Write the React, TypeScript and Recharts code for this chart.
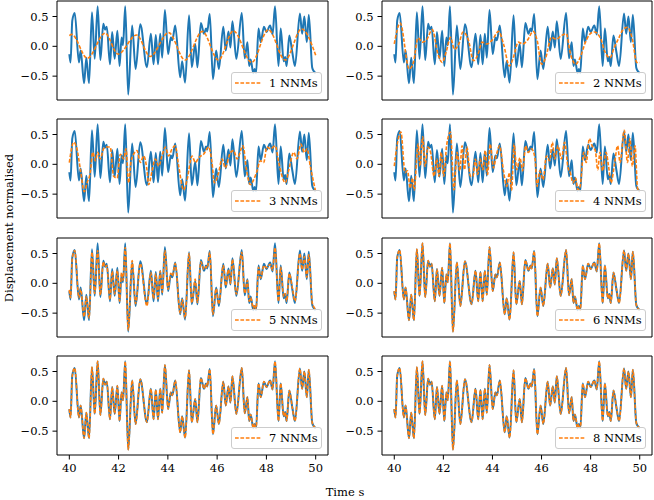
import { LineChart, Line, XAxis, YAxis, ReferenceArea } from "recharts";

const FONT = "'DejaVu Serif', serif";
const BLUE = "#1f77b4";
const ORANGE = "#ff7f0e";

const X_DOMAIN: [number, number] = [39.5, 50.5];
const Y_DOMAIN: [number, number] = [-0.9, 0.76];
const X_TICKS = [40, 42, 44, 46, 48, 50];
const Y_TICKS = [-0.5, 0, 0.5];

const LABELS = ["1 NNMs", "2 NNMs", "3 NNMs", "4 NNMs", "5 NNMs", "6 NNMs", "7 NNMs", "8 NNMs"];

const MEASURED = [
  [40.0, -0.13], [40.05, -0.27], [40.12, 0.43], [40.22, 0.56], [40.39, -0.27], [40.46, -0.07],
  [40.6, -0.62], [40.69, -0.19], [40.8, -0.62], [40.92, 0.57], [41.03, -0.21], [41.15, 0.67],
  [41.26, -0.23], [41.38, 0.38], [41.45, 0.28], [41.52, 0.33], [41.65, -0.3], [41.74, 0.24],
  [41.84, -0.21], [41.95, 0.26], [42.04, -0.33], [42.12, 0.15], [42.18, 0.02], [42.27, 0.67],
  [42.39, -0.81], [42.55, 0.35], [42.69, -0.38], [42.88, 0.37], [43.15, -0.35], [43.31, 0.21],
  [43.42, -0.3], [43.51, 0.19], [43.6, -0.3], [43.69, 0.21], [43.77, -0.19], [43.88, 0.61],
  [44.01, -0.13], [44.12, 0.15], [44.18, 0.1], [44.3, 0.35], [44.5, -0.52], [44.58, -0.25],
  [44.7, -0.61], [44.86, 0.52], [44.97, -0.35], [45.11, 0.04], [45.2, -0.35], [45.34, 0.39],
  [45.47, 0.21], [45.55, 0.3], [45.6, 0.25], [45.7, 0.54], [45.83, -0.55], [45.96, -0.07],
  [46.07, -0.38], [46.25, 0.33], [46.35, -0.07], [46.46, 0.25], [46.54, -0.02], [46.62, 0.42],
  [46.78, -0.21], [47.0, 0.56], [47.12, -0.2], [47.23, 0.07], [47.3, -0.33], [47.36, -0.22],
  [47.47, -0.45], [47.52, -0.38], [47.58, -0.45], [47.68, 0.3], [47.77, 0.07], [47.9, 0.33],
  [48.0, 0.24], [48.15, 0.35], [48.25, 0.2], [48.35, 0.67], [48.49, -0.33], [48.58, 0.3],
  [48.7, -0.25], [48.76, -0.18], [48.82, -0.33], [48.93, 0.18], [49.05, -0.1], [49.16, -0.33],
  [49.36, 0.55], [49.45, 0.21], [49.54, 0.5], [49.64, 0.07], [49.72, 0.53], [49.86, -0.36],
  [49.93, -0.42], [50.0, -0.45],
];

const NNM_1 = [
  [40.0, 0.18], [40.1, 0.2], [40.73, -0.2], [41.45, 0.22], [41.98, -0.13], [42.73, 0.19],
  [43.28, -0.17], [44.03, 0.23], [44.7, -0.23], [45.4, 0.25], [46.05, -0.23], [46.66, 0.26],
  [47.4, -0.27], [48.08, 0.28], [48.76, -0.23], [49.43, 0.29], [50.0, -0.15],
];

const NNM_2 = [
  [40.0, 0.04], [40.24, 0.39], [40.61, -0.38], [40.78, -0.27], [40.97, 0.14], [41.15, 0.07],
  [41.32, 0.11], [41.55, 0.28], [41.78, -0.13], [41.95, -0.27], [42.13, -0.07], [42.29, 0.15],
  [42.45, -0.05], [42.63, 0.04], [42.8, 0.24], [43.01, 0.12], [43.23, -0.24], [43.44, -0.1],
  [43.57, 0.07], [43.77, 0.04], [43.98, 0.1], [44.25, 0.25], [44.45, 0.04], [44.69, -0.33],
  [44.85, -0.19], [45.05, 0.07], [45.23, 0.04], [45.42, 0.1], [45.66, 0.25], [45.82, 0.1],
  [46.0, -0.3], [46.17, -0.19], [46.4, 0.15], [46.6, 0.12], [46.81, 0.18], [47.01, 0.21],
  [47.18, -0.13], [47.39, -0.3], [47.57, -0.19], [47.79, 0.07], [47.98, 0.21], [48.15, 0.24],
  [48.42, 0.12], [48.56, -0.07], [48.79, -0.19], [48.96, -0.02], [49.16, 0.15], [49.3, 0.27],
  [49.5, 0.32], [49.7, 0.12], [49.88, -0.27], [50.0, -0.27],
];

const NNM_3 = [
  [40.0, 0.03], [40.18, 0.37], [40.31, 0.26], [40.45, -0.09], [40.61, -0.46], [40.72, -0.31],
  [40.85, -0.14], [40.95, 0.2], [41.06, 0.06], [41.15, 0.2], [41.26, 0.09], [41.39, 0.26],
  [41.5, 0.29], [41.66, 0.29], [41.8, -0.2], [41.94, -0.23], [42.07, 0.17], [42.21, 0.09],
  [42.3, 0.26], [42.41, -0.31], [42.5, 0.03], [42.61, 0.17], [42.75, 0.23], [42.88, 0.03],
  [43.02, 0.14], [43.15, -0.09], [43.22, -0.34], [43.36, -0.11], [43.49, 0.09], [43.63, -0.03],
  [43.76, 0.14], [43.9, 0.29], [44.03, 0.14], [44.17, 0.26], [44.3, 0.31], [44.44, -0.03],
  [44.64, -0.43], [44.78, -0.26], [44.98, 0.14], [45.12, 0.03], [45.25, 0.11], [45.45, 0.17],
  [45.66, 0.29], [45.79, 0.03], [45.89, -0.31], [46.06, -0.14], [46.2, 0.09], [46.33, -0.06],
  [46.54, 0.2], [46.67, 0.23], [46.81, 0.09], [47.05, 0.31], [47.19, -0.09], [47.35, -0.34],
  [47.48, -0.26], [47.62, -0.11], [47.75, 0.06], [47.89, 0.03], [48.02, 0.29], [48.16, 0.26],
  [48.36, 0.31], [48.5, 0.03], [48.77, -0.31], [48.9, -0.11], [49.11, 0.2], [49.24, 0.09],
  [49.4, 0.34], [49.54, 0.2], [49.65, 0.26], [49.78, -0.03], [50.0, -0.46],
];

const NNM_4 = [
  [40.0, -0.03], [40.11, 0.31], [40.27, 0.54], [40.44, -0.14], [40.54, -0.11], [40.65, -0.4],
  [40.74, -0.23], [40.81, -0.43], [40.97, 0.34], [41.05, -0.03], [41.16, 0.46], [41.25, -0.03],
  [41.37, 0.29], [41.48, 0.2], [41.62, -0.2], [41.73, 0.09], [41.82, -0.2], [41.91, 0.2],
  [42.02, -0.2], [42.13, 0.31], [42.29, 0.54], [42.43, -0.43], [42.56, 0.2], [42.67, -0.11],
  [42.76, 0.31], [42.86, -0.09], [42.96, 0.29], [43.1, -0.2], [43.21, -0.2], [43.3, 0.09],
  [43.4, -0.17], [43.5, 0.09], [43.61, -0.09], [43.71, 0.23], [43.8, -0.17], [43.91, 0.34],
  [44.04, -0.06], [44.15, 0.14], [44.29, 0.31], [44.45, -0.11], [44.58, -0.37], [44.69, -0.14],
  [44.78, -0.43], [44.88, 0.34], [44.99, -0.09], [45.12, 0.11], [45.23, -0.11], [45.35, 0.31],
  [45.46, 0.2], [45.59, 0.26], [45.73, 0.11], [45.82, -0.37], [45.93, -0.11], [46.06, -0.26],
  [46.2, 0.14], [46.33, 0.06], [46.44, 0.37], [46.54, 0.09], [46.67, 0.31], [46.81, 0.09],
  [46.94, 0.37], [47.08, -0.06], [47.17, -0.14], [47.28, -0.31], [47.39, -0.23], [47.48, -0.43],
  [47.57, -0.37], [47.72, 0.2], [47.82, 0.03], [47.95, 0.43], [48.06, 0.31], [48.19, 0.23],
  [48.29, -0.09], [48.38, 0.2], [48.49, -0.11], [48.63, 0.2], [48.73, -0.03], [48.83, -0.31],
  [48.96, -0.03], [49.1, 0.31], [49.2, 0.03], [49.37, 0.57], [49.5, 0.03], [49.6, 0.43],
  [49.7, -0.03], [49.81, 0.31], [49.91, -0.4], [50.0, -0.46],
];

const NNM_5 = [
  [40.0, -0.11], [40.05, -0.24], [40.12, 0.42], [40.22, 0.55], [40.39, -0.24], [40.46, -0.1],
  [40.6, -0.56], [40.69, -0.22], [40.8, -0.58], [40.92, 0.52], [41.03, -0.17], [41.15, 0.55],
  [41.26, -0.2], [41.38, 0.36], [41.45, 0.27], [41.52, 0.3], [41.65, -0.27], [41.74, 0.2],
  [41.84, -0.18], [41.95, 0.22], [42.04, -0.3], [42.12, 0.18], [42.18, 0.05], [42.27, 0.6],
  [42.39, -0.78], [42.55, 0.38], [42.69, -0.34], [42.88, 0.33], [43.15, -0.38], [43.31, 0.18],
  [43.42, -0.26], [43.51, 0.16], [43.6, -0.26], [43.69, 0.2], [43.77, -0.15], [43.88, 0.55],
  [44.01, -0.1], [44.12, 0.17], [44.18, 0.12], [44.3, 0.33], [44.5, -0.5], [44.58, -0.27],
  [44.7, -0.58], [44.86, 0.5], [44.97, -0.33], [45.11, 0.07], [45.2, -0.32], [45.34, 0.36],
  [45.47, 0.23], [45.55, 0.28], [45.6, 0.26], [45.7, 0.52], [45.83, -0.52], [45.96, -0.09],
  [46.07, -0.35], [46.25, 0.3], [46.35, -0.04], [46.46, 0.23], [46.54, 0.0], [46.62, 0.4],
  [46.78, -0.18], [47.0, 0.52], [47.12, -0.17], [47.23, 0.05], [47.3, -0.3], [47.36, -0.24],
  [47.47, -0.42], [47.52, -0.36], [47.58, -0.43], [47.68, 0.27], [47.77, 0.09], [47.9, 0.3],
  [48.0, 0.26], [48.15, 0.32], [48.25, 0.22], [48.35, 0.6], [48.49, -0.3], [48.58, 0.27],
  [48.7, -0.22], [48.76, -0.17], [48.82, -0.3], [48.93, 0.16], [49.05, -0.07], [49.16, -0.3],
  [49.36, 0.5], [49.45, 0.23], [49.54, 0.45], [49.64, 0.1], [49.72, 0.48], [49.86, -0.33],
  [49.93, -0.4], [50.0, -0.44],
];

// from 6 NNMs on the fit sits on the measured curve
const NNM_6 = MEASURED;
const NNM_7 = MEASURED;
const NNM_8 = MEASURED;

const FITS = [NNM_1, NNM_2, NNM_3, NNM_4, NNM_5, NNM_6, NNM_7, NNM_8];

const toPts = (rows: number[][]) => rows.map(([t, v]) => ({ t, v }));

const COL_LEFT = [0, 325];
const COL_WIDTH = [330, 329];
const ROW_TOP = [1, 119.33, 237.67, 356];
const PLOT_H = 99;

const fmtY = (v: number) => (v < 0 ? "\u2212" : "") + Math.abs(v).toFixed(1);

const tickStyle = { fill: "#000", fontSize: 11.5, fontFamily: FONT };

function Panel({ idx }: { idx: number }) {
  const col = idx % 2;
  const row = Math.floor(idx / 2);
  const bottom = row === 3;
  const width = COL_WIDTH[col];
  const height = 5 + PLOT_H + 30;
  return (
    <div style={{ position: "absolute", left: COL_LEFT[col], top: ROW_TOP[row] - 5, width, height }}>
      <LineChart width={width} height={height} margin={{ top: 5, right: 2, bottom: 0, left: 0 }}>
        <XAxis
          type="number"
          dataKey="t"
          domain={X_DOMAIN}
          ticks={X_TICKS}
          allowDataOverflow
          height={30}
          axisLine={false}
          tickSize={4.5}
          tickMargin={4}
          stroke="#000"
          tick={bottom ? tickStyle : false}
        />
        <YAxis
          type="number"
          domain={Y_DOMAIN}
          ticks={Y_TICKS}
          allowDataOverflow
          width={57}
          axisLine={false}
          tickSize={4.5}
          tickMargin={4}
          stroke="#000"
          tick={tickStyle}
          tickFormatter={fmtY}
        />
        <ReferenceArea
          x1={X_DOMAIN[0]}
          x2={X_DOMAIN[1]}
          y1={Y_DOMAIN[0]}
          y2={Y_DOMAIN[1]}
          fill="none"
          stroke="#000"
          strokeWidth={1}
        />
        <Line
          data={toPts(MEASURED)}
          dataKey="v"
          type="monotone"
          stroke={BLUE}
          strokeWidth={2}
          dot={false}
          isAnimationActive={false}
        />
        <Line
          data={toPts(FITS[idx])}
          dataKey="v"
          type="monotone"
          stroke={ORANGE}
          strokeWidth={1.6}
          strokeDasharray="3.7 1.7"
          dot={false}
          isAnimationActive={false}
        />
      </LineChart>
      <div
        style={{
          position: "absolute",
          right: 8,
          top: 5 + PLOT_H - 6 - 22,
          width: 91,
          height: 22,
          boxSizing: "border-box",
          border: "1px solid #ccc",
          borderRadius: 3,
          background: "rgba(255,255,255,0.8)",
          fontFamily: FONT,
          fontSize: 11.5,
          color: "#000",
        }}
      >
        <svg width={28} height={20} style={{ position: "absolute", left: 2.5, top: 0 }}>
          <line x1={0} y1={10} x2={27} y2={10} stroke={ORANGE} strokeWidth={1.6} strokeDasharray="3.7 1.7" />
        </svg>
        <span style={{ position: "absolute", left: 37, top: 3, lineHeight: "14px", whiteSpace: "nowrap" }}>
          {LABELS[idx]}
        </span>
      </div>
    </div>
  );
}

export default function App() {
  return (
    <div
      style={{
        position: "absolute",
        left: 0,
        top: 0,
        width: 654,
        height: 500,
        background: "#fff",
        overflow: "hidden",
        fontFamily: FONT,
      }}
    >
      {LABELS.map((_, i) => (
        <Panel key={i} idx={i} />
      ))}
      <div
        style={{
          position: "absolute",
          left: 9,
          top: 228,
          transform: "translate(-50%, -50%) rotate(-90deg)",
          whiteSpace: "nowrap",
          fontSize: 11.5,
          lineHeight: "14px",
          color: "#000",
        }}
      >
        Displacement normalised
      </div>
      <div
        style={{
          position: "absolute",
          left: 345,
          top: 485,
          transform: "translateX(-50%)",
          whiteSpace: "nowrap",
          fontSize: 11.5,
          lineHeight: "14px",
          color: "#000",
        }}
      >
        Time s
      </div>
    </div>
  );
}
